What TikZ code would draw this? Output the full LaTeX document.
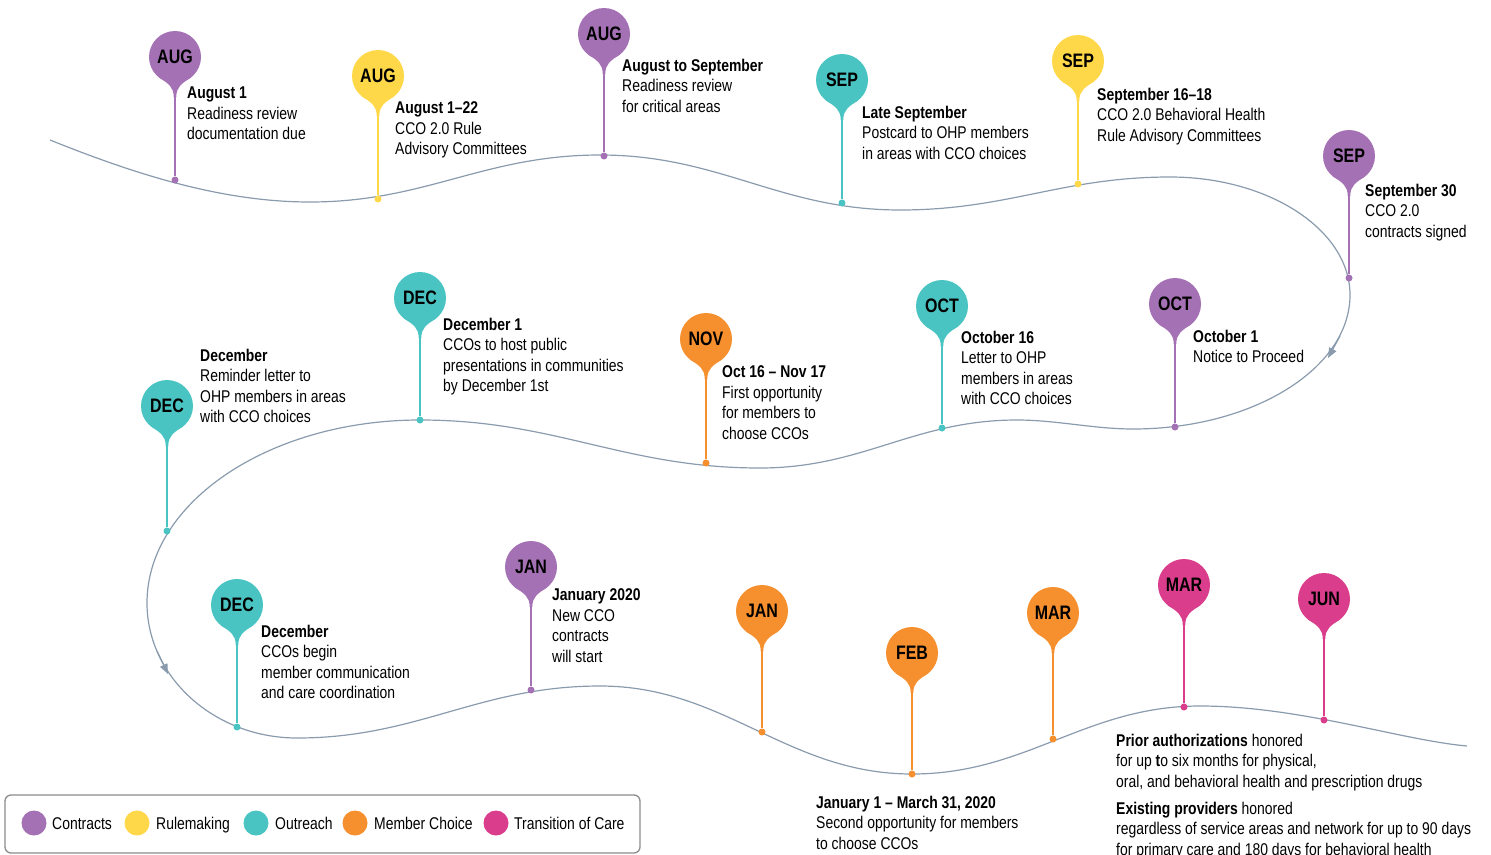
\documentclass[tikz,border=0pt]{standalone}
\usepackage{fontspec}
\setmainfont{Liberation Sans}[FakeStretch=0.82]
\usetikzlibrary{arrows.meta}
\definecolor{cpur}{HTML}{A571B5}
\definecolor{cyel}{HTML}{FFD84A}
\definecolor{cteal}{HTML}{4AC4C2}
\definecolor{corg}{HTML}{F68F2E}
\definecolor{cmag}{HTML}{D93D8B}
\definecolor{ccurve}{HTML}{8A9BAD}
\definecolor{carrow}{HTML}{7B8FA1}
\definecolor{cframe}{HTML}{8C8C8C}
\newcommand\mypin[6]{%
  \fill[#2] (#3-17,#4+19.7) .. controls (#3-6,#4+27) and (#3-1.3,#4+30) .. (#3-1.3,#4+40)
     -- (#3+1.3,#4+40) .. controls (#3+1.3,#4+30) and (#3+6,#4+27) .. (#3+17,#4+19.7) -- cycle;
  \node[pinhead,fill=#2] (#1) at (#3,#4) {#6};
  \node[pindot,fill=#2] (#1d) at (#3,#5) {};
  \draw[#2,line width=2.4bp] (#1) -- (#1d);
}
\begin{document}
\begin{tikzpicture}[x=1bp,y=-1bp,
  pinhead/.style={circle,minimum size=52bp,inner sep=0pt,font=\bfseries\fontsize{19.5bp}{22bp}\selectfont},
  pindot/.style={circle,minimum size=7bp,inner sep=0pt},
  txt/.style={anchor=north west,inner sep=0pt,align=left,font=\fontsize{17bp}{20.5bp}\selectfont},
  curve/.style={draw=ccurve,line width=1.2bp},
  arr/.style={draw=ccurve,fill=carrow,line width=1.2bp,-{Triangle[length=10bp,width=8bp]}},
  legdot/.style={circle,minimum size=25bp,inner sep=0pt},
  legtxt/.style={anchor=base west,inner sep=0pt,font=\fontsize{17bp}{20.5bp}\selectfont}
]
\useasboundingbox (0,0) rectangle (1491,854);

% timeline curve
\draw[curve] (50,140)
  .. controls (137,175) and (223,202) .. (310,202)
  .. controls (426,202) and (484,155) .. (600,155)
  .. controls (720,155) and (780,210) .. (900,210)
  .. controls (1008,210) and (1062,177) .. (1170,177)
  .. controls (1269,177) and (1350,230) .. (1350,295)
  .. controls (1350,369) and (1252,429) .. (1133,429)
  .. controls (1094,429) and (1056,420) .. (1017,420)
  .. controls (914,420) and (863,468) .. (760,468)
  .. controls (624,468) and (556,420) .. (420,420)
  .. controls (270,420) and (147,502) .. (147,603)
  .. controls (147,677) and (214.5,738) .. (297,738)
  .. controls (418,738) and (479,686) .. (600,686)
  .. controls (725,686) and (787,774) .. (912,774)
  .. controls (1027,774) and (1085,706) .. (1200,706)
  .. controls (1300,706) and (1400,740) .. (1467,746);

\coordinate (a1s) at (1340,336);
\coordinate (a1e) at (1328,358);
\draw[arr] (a1s) -- (a1e);
\coordinate (a2s) at (157,651);
\coordinate (a2e) at (168,674);
\draw[arr] (a2s) -- (a2e);

% pins
\mypin{p1}{cpur}{175}{57}{180}{AUG}
\mypin{p2}{cyel}{378}{76}{199}{AUG}
\mypin{p3}{cpur}{604}{34}{156}{AUG}
\mypin{p4}{cteal}{842}{80}{203}{SEP}
\mypin{p5}{cyel}{1078}{61}{184}{SEP}
\mypin{p6}{cpur}{1349}{156}{278}{SEP}
\mypin{p7}{cpur}{1175}{304}{427}{OCT}
\mypin{p8}{cteal}{942}{306}{428}{OCT}
\mypin{p9}{corg}{706}{339}{463}{NOV}
\mypin{p10}{cteal}{420}{298}{420}{DEC}
\mypin{p11}{cteal}{167}{406}{531}{DEC}
\mypin{p12}{cteal}{237}{605}{727}{DEC}
\mypin{p13}{cpur}{531}{567}{690}{JAN}
\mypin{p14}{corg}{762}{611}{732}{JAN}
\mypin{p15}{corg}{912}{653}{774}{FEB}
\mypin{p16}{corg}{1053}{613}{739}{MAR}
\mypin{p17}{cmag}{1184}{585}{707}{MAR}
\mypin{p18}{cmag}{1324}{599}{720}{JUN}

% texts
\node[txt] (t1) at (187,86.7) {\textbf{August 1}\\Readiness review\\documentation due};
\node[txt] (t2) at (395,101.7) {\textbf{August 1–22}\\CCO 2.0 Rule\\Advisory Committees};
\node[txt] (t3) at (622,58.7) {\textbf{August to September}\\Readiness review\\for critical areas};
\node[txt] (t4) at (862,105.7) {\textbf{Late September}\\Postcard to OHP members\\in areas with CCO choices};
\node[txt] (t5) at (1097,87.7) {\textbf{September 16–18}\\CCO 2.0 Behavioral Health\\Rule Advisory Committees};
\node[txt] (t6) at (1365,183.7) {\textbf{September 30}\\CCO 2.0\\contracts signed};
\node[txt] (t7) at (1193,329.7) {\textbf{October 1}\\Notice to Proceed};
\node[txt] (t8) at (961,330.7) {\textbf{October 16}\\Letter to OHP\\members in areas\\with CCO choices};
\node[txt] (t9) at (722,365.7) {\textbf{Oct 16 – Nov 17}\\First opportunity\\for members to\\choose CCOs};
\node[txt] (t10) at (443,317.7) {\textbf{December 1}\\CCOs to host public\\presentations in communities\\by December 1st};
\node[txt] (t11) at (200,348.7) {\textbf{December}\\Reminder letter to\\OHP members in areas\\with CCO choices};
\node[txt] (t12) at (261,624.7) {\textbf{December}\\CCOs begin\\member communication\\and care coordination};
\node[txt] (t13) at (552,588.7) {\textbf{January 2020}\\New CCO\\contracts\\will start};
\node[txt] (t15) at (816,795.7) {\textbf{January 1 – March 31, 2020}\\Second opportunity for members\\to choose CCOs};
\node[txt] (t18a) at (1116,733.7) {\textbf{Prior authorizations} honored\\for up \textbf{t}o six months for physical,\\oral, and behavioral health and prescription drugs};
\node[txt] (t18b) at (1116,801.7) {\textbf{Existing providers} honored\\regardless of service areas and network for up to 90 days\\for primary care and 180 days for behavioral health};

% legend
\node[draw=cframe,line width=1.3bp,rounded corners=6bp,minimum width=635bp,minimum height=58bp,inner sep=0pt] (legend) at (322.5,824) {};
\node[legdot,fill=cpur] (l1) at (34,823) {};
\node[legtxt] (l1t) at (52,829.5) {Contracts};
\node[legdot,fill=cyel] (l2) at (137,823) {};
\node[legtxt] (l2t) at (156,829.5) {Rulemaking};
\node[legdot,fill=cteal] (l3) at (256,823) {};
\node[legtxt] (l3t) at (275,829.5) {Outreach};
\node[legdot,fill=corg] (l4) at (355,823) {};
\node[legtxt] (l4t) at (374,829.5) {Member Choice};
\node[legdot,fill=cmag] (l5) at (496,823) {};
\node[legtxt] (l5t) at (514,829.5) {Transition of Care};
\end{tikzpicture}
\end{document}
